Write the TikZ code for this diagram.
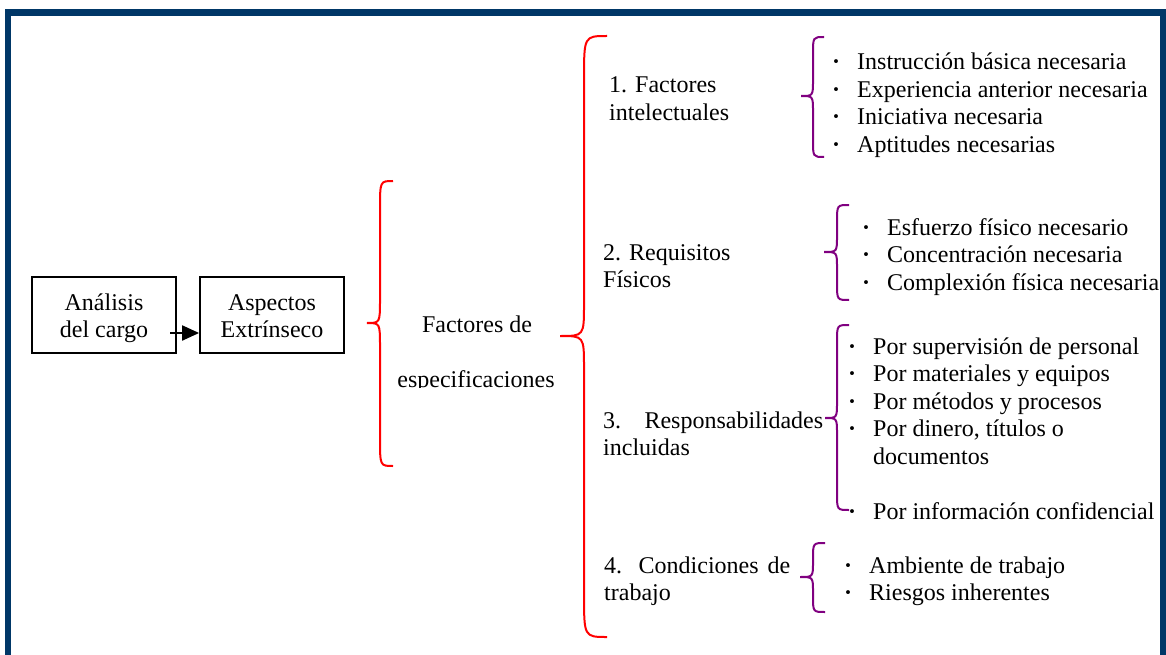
\documentclass[tikz,border=0pt]{standalone}
\usepackage{fontspec}
\setmainfont{Liberation Serif}
\usetikzlibrary{arrows.meta}
\definecolor{framenavy}{RGB}{0,55,103}
\definecolor{bracered}{RGB}{255,0,0}
\definecolor{bracepurple}{RGB}{128,0,128}

% curly brace opening to the right:
% #1 style, #2 end x, #3 spine x, #4 tip x, #5 top y, #6 tip y, #7 bottom y, #8 end radius, #9 tip radius
\newcommand{\openbrace}[9]{%
  \draw[#1] (#2,#5) .. controls (#3,#5) .. (#3,{#5+#8})
    -- (#3,{#6-#9}) .. controls (#3,#6) .. (#4,#6)
    .. controls (#3,#6) .. (#3,{#6+#9})
    -- (#3,{#7-#8}) .. controls (#3,#7) .. (#2,#7);}

% bulleted line: #1 name, #2 text x, #3 baseline y, #4 text
\newcommand{\bulletline}[4]{%
  \node[txt] (#1) at (#2,#3) {#4};
  \node[bul] (#1-dot) at ({#2-21},#3) {·};}

\begin{document}
\begin{tikzpicture}[x=1pt,y=-1pt,
  txt/.style={inner sep=0pt, anchor=base west, font=\fontsize{24pt}{27.6pt}\selectfont},
  ctxt/.style={txt, anchor=base},
  bul/.style={txt, anchor=base, font=\fontsize{24pt}{27.6pt}\selectfont\bfseries},
  box/.style={draw, line width=1.8pt, minimum width=144pt, minimum height=76pt, inner sep=0pt},
  redbrace/.style={draw=bracered, line width=2pt},
  purplebrace/.style={draw=bracepurple, line width=2pt}]

\useasboundingbox (0,0) rectangle (1166,655);
\clip (0,0) rectangle (1166,655);
\fill[white] (0,0) rectangle (1166,655);

% navy frame, open below the page edge
\draw[framenavy, line width=6.5pt] (8,12.75) rectangle (1163,700);

% the two boxes and the arrow between them
\node[box] (analisis) at (104,315) {};
\node[ctxt] (analisis-l1) at (104,310) {Análisis};
\node[ctxt] (analisis-l2) at (104,337.6) {del cargo};
\node[box] (aspectos) at (272,315) {};
\node[ctxt] (aspectos-l1) at (272,310) {Aspectos};
\node[ctxt] (aspectos-l2) at (272,337.6) {Extrínseco};
\coordinate (arrowstart) at (170,333);
\draw[line width=2pt, -{Triangle[length=17pt,width=15pt]}] (arrowstart) -- (arrowstart -| aspectos.west);

% first red brace and its label
\openbrace{redbrace}{393}{380}{367}{181}{323}{466}{28}{24}
\node[ctxt] (factores) at (477,332) {Factores de};
\begin{scope}
  \clip (380,340) rectangle (580,387.5);
  \node[ctxt] (especificaciones) at (476,387) {especificaciones};
\end{scope}

% second red brace and the four groups
\openbrace{redbrace}{607}{584}{560}{36}{336}{637}{44}{32}

\node[txt] (g1a) at (609,93) {1. Factores};
\node[txt] (g1b) at (609,120.6) {intelectuales};
\node[txt] (g2a) at (603,260) {2. Requisitos};
\node[txt] (g2b) at (603,287.6) {Físicos};
\node[txt] (g3a) at (603,428) {\makebox[220pt][s]{3. Responsabilidades}};
\node[txt] (g3b) at (603,455.6) {incluidas};
\node[txt] (g4a) at (604,573) {\makebox[186pt][s]{4. Condiciones de}};
\node[txt] (g4b) at (604,600.6) {trabajo};

% purple braces with their lists
\openbrace{purplebrace}{824}{813}{801}{37}{96}{157}{17}{16}
\bulletline{p1a}{857}{69.5}{Instrucción básica necesaria}
\bulletline{p1b}{857}{97.1}{Experiencia anterior necesaria}
\bulletline{p1c}{857}{124.7}{Iniciativa necesaria}
\bulletline{p1d}{857}{152.3}{Aptitudes necesarias}

\openbrace{purplebrace}{849}{837}{824}{205}{252}{300}{17}{16}
\bulletline{p2a}{887}{235}{Esfuerzo físico necesario}
\bulletline{p2b}{887}{262.6}{Concentración necesaria}
\bulletline{p2c}{887}{290.2}{Complexión física necesaria}

\openbrace{purplebrace}{849}{837}{825}{325}{418}{510}{17}{16}
\bulletline{p3a}{873}{354}{Por supervisión de personal}
\bulletline{p3b}{873}{381.6}{Por materiales y equipos}
\bulletline{p3c}{873}{409.2}{Por métodos y procesos}
\bulletline{p3d}{873}{436.8}{Por dinero, títulos o}
\node[txt] (p3d-cont) at (873,464.4) {documentos};
\bulletline{p3e}{873}{519.6}{Por información confidencial}

\openbrace{purplebrace}{825}{813}{800}{543}{577}{612}{16}{15}
\bulletline{p4a}{869}{573}{Ambiente de trabajo}
\bulletline{p4b}{869}{600.6}{Riesgos inherentes}

\end{tikzpicture}
\end{document}
